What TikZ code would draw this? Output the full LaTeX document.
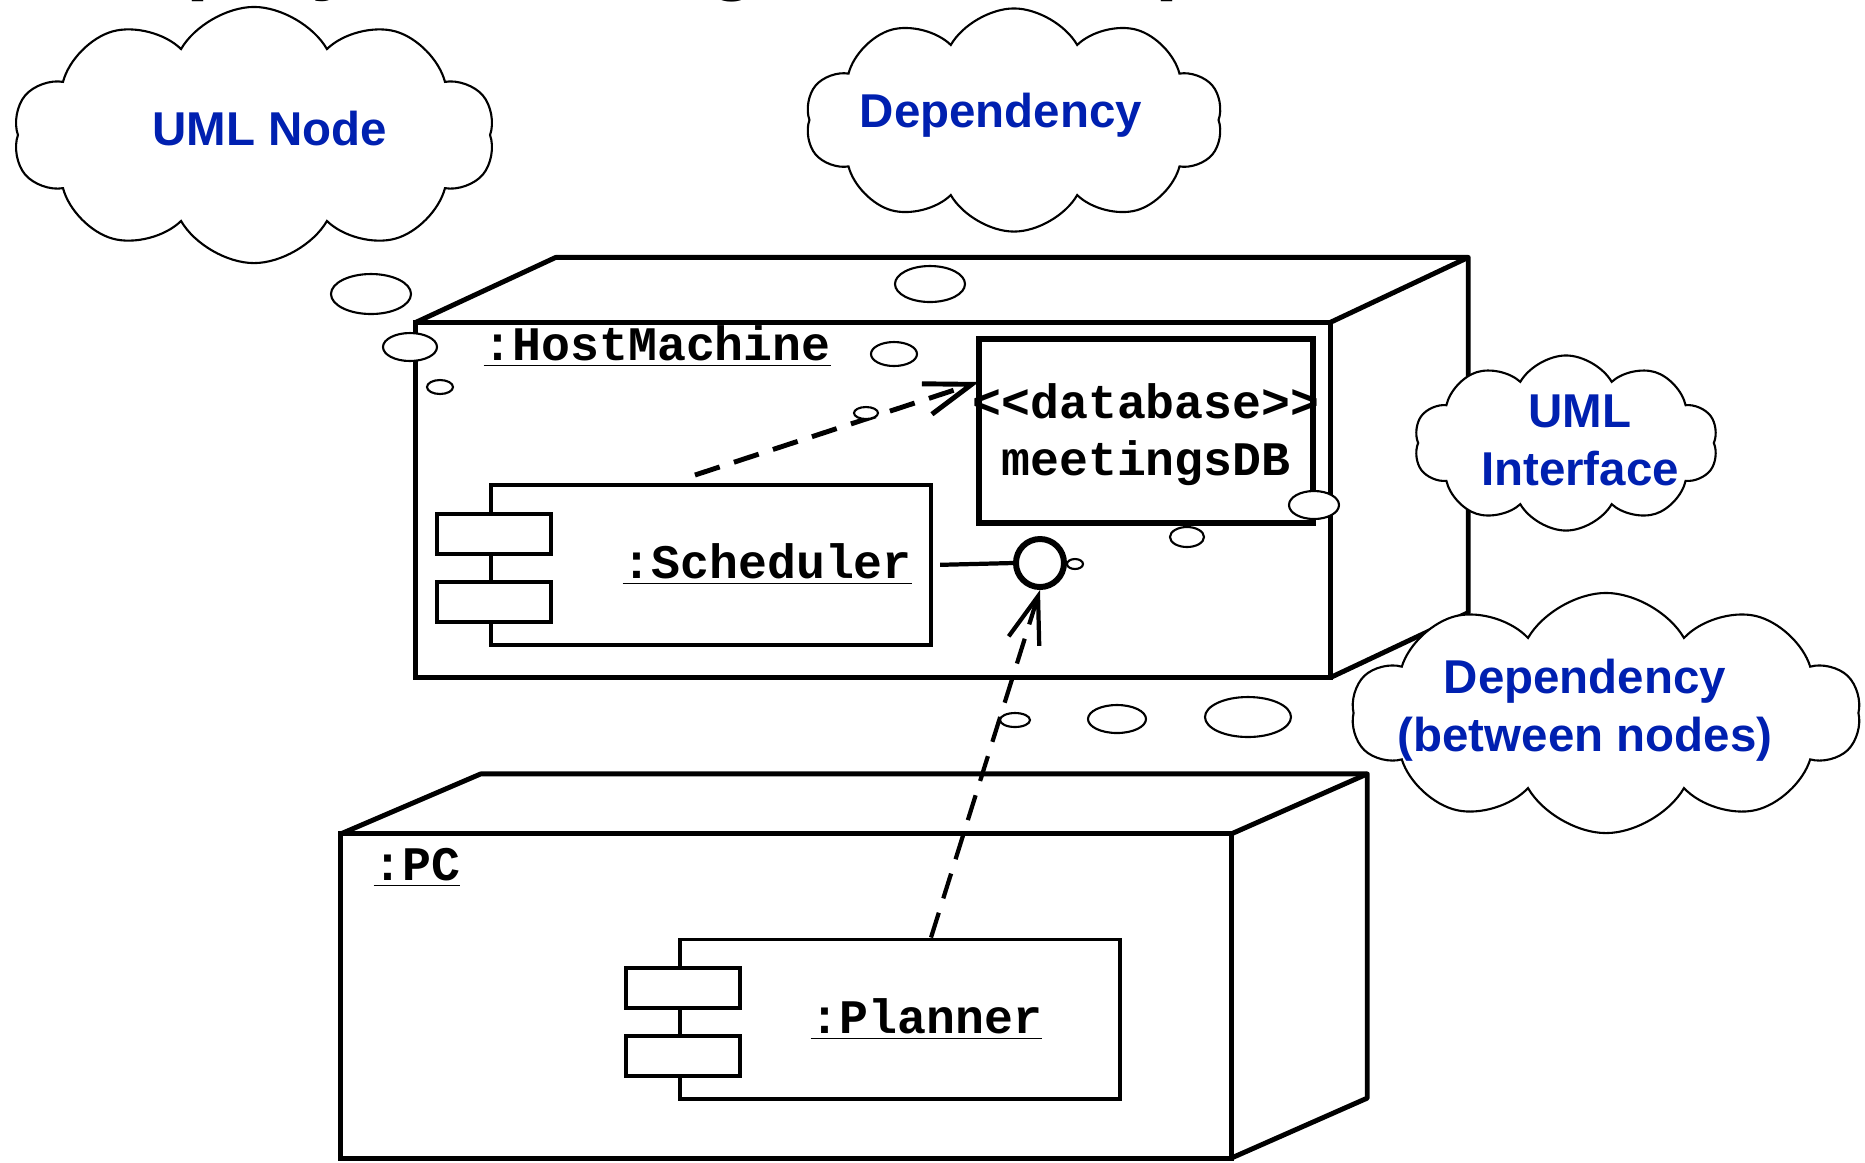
\documentclass[tikz,border=0pt]{standalone}
\usepackage{fontspec}
\setmainfont{Liberation Sans}
\newfontfamily\codefont{Liberation Mono}[Ligatures=TeXOff]
\usetikzlibrary{shapes.symbols,arrows.meta,positioning}
\definecolor{umlblue}{RGB}{0,32,176}

\begin{document}
\begin{tikzpicture}[x=0.01cm, y=-0.01cm,
  nodebox/.style={draw, line width=1.4pt, inner sep=0pt, outer sep=0pt},
  facet/.style={line width=1.4pt, line join=round},
  comp/.style={draw, line width=1.1pt, inner sep=0pt, fill=white},
  port/.style={draw, line width=1.1pt, fill=white, inner sep=0pt, minimum width=1.14cm, minimum height=0.40cm},
  code/.style={font=\codefont\bfseries\fontsize{13.7}{16.2}\selectfont, inner sep=0pt},
  note/.style={font=\bfseries\fontsize{13.5}{16.5}\selectfont, text=umlblue, align=center, inner sep=0pt},
  thought/.style={cloud, cloud puffs=10, cloud puff arc=120, cloud ignores aspect, draw, line width=0.6pt, fill=white, inner sep=0pt},
  bubble/.style={draw, line width=0.6pt, fill=white},
  dep/.style={line width=1.4pt, dash pattern=on 0.26cm off 0.15cm, -{Straight Barb[length=0.47cm, width=0.32cm]}}]
\path[use as bounding box, fill=white] (0,0) rectangle (1865,1162);

% title, only its descenders reach into the page
\node[font=\bfseries\fontsize{23.6}{28}\selectfont, anchor=base west, inner sep=0pt] (title) at (80,-16) {Deployment Diagram Example};

% the host machine
\node[nodebox, minimum width=9.14cm, minimum height=3.55cm] (host) at (873,500) {};
\draw[facet] (host.north west) -- ++(140,-65) -- ([shift={(138,-65)}]host.north east) -- ([shift={(138,-65)}]host.south east) -- (host.south east);
\draw[facet] (host.north east) -- ++(138,-65);
\node[code, anchor=base west] (hostname) at (483,360) {\underline{:HostMachine}};

% the pc
\node[nodebox, minimum width=8.90cm, minimum height=3.24cm] (pc) at (786,996) {};
\draw[facet] (pc.north west) -- ++(140,-60) -- ([shift={(136,-60)}]pc.north east) -- ([shift={(136,-60)}]pc.south east) -- (pc.south east);
\draw[facet] (pc.north east) -- ++(136,-60);
\node[code, anchor=base west] (pcname) at (373,880) {\underline{:PC}};

% components
\node[comp, minimum width=4.40cm, minimum height=1.60cm] (sched) at (711,565) {};
\node[comp, minimum width=4.40cm, minimum height=1.59cm] (plan) at (900,1019) {};
\foreach \c in {sched,plan} {
  \node[port] (\c-top) at ([xshift=0.05cm, yshift=0.31cm]\c.west) {};
  \node[port] (\c-bot) at ([xshift=0.05cm, yshift=-0.37cm]\c.west) {};
}
\node[code, anchor=base west] (schedname) at (622,578) {\underline{:Scheduler}};
\node[code, anchor=base west] (planname) at (810,1033) {\underline{:Planner}};

% database
\node[draw, line width=1.6pt, inner sep=0pt, outer sep=0pt, minimum width=3.34cm, minimum height=1.84cm] (db) at (1146,431) {};
\node[code, align=center] (dbname) at ([yshift=-0.04cm]db) {<<database>>\\meetingsDB};

% interface and dependencies
\node[circle, draw, line width=1.7pt, minimum size=0.48cm, inner sep=0pt, fill=white] (iface) at (1040,563) {};
\draw[line width=1.2pt, shorten <=0.07cm] (sched.east) -- (iface.west);
\draw[dep] ([xshift=-0.16cm, yshift=0.08cm]sched.north) -- ([yshift=0.49cm]db.west);
\draw[dep, line width=1.2pt] ([xshift=0.31cm]plan.north) -- (iface.south);

% thought bubbles
\foreach \x/\y/\rx/\ry in {371/294/40/20, 410/347/27/14, 440/387/13/7,
    930/284/35/18, 894/354/23/12, 866/413/12/6,
    1314/505/25/14, 1187/537/17/10, 1075/564/8/5,
    1248/717/43/20, 1117/719/29/14, 1015/720/15/7}
  \draw[bubble] (\x,\y) ellipse [x radius=\rx*0.01cm, y radius=\ry*0.01cm];

% clouds
\node[thought, minimum width=4.81cm, minimum height=2.56cm] (nodecloud) at (254,135) {};
\node[note] (nodenote) at (270,129) {UML Node};
\node[thought, minimum width=4.17cm, minimum height=2.23cm] (depcloud) at (1014,120) {};
\node[note] (depnote) at (1001,115) {Dependency};
\node[thought, minimum width=3.04cm, minimum height=1.75cm] (ifcloud) at (1566,443) {};
\node[note] (ifnote) at (1580,440) {UML\\Interface};
\node[thought, minimum width=5.08cm, minimum height=2.40cm] (linkcloud) at (1606,713) {};
\node[note] (linknote) at (1585,710) {Dependency\\(between nodes)};
\end{tikzpicture}
\end{document}
